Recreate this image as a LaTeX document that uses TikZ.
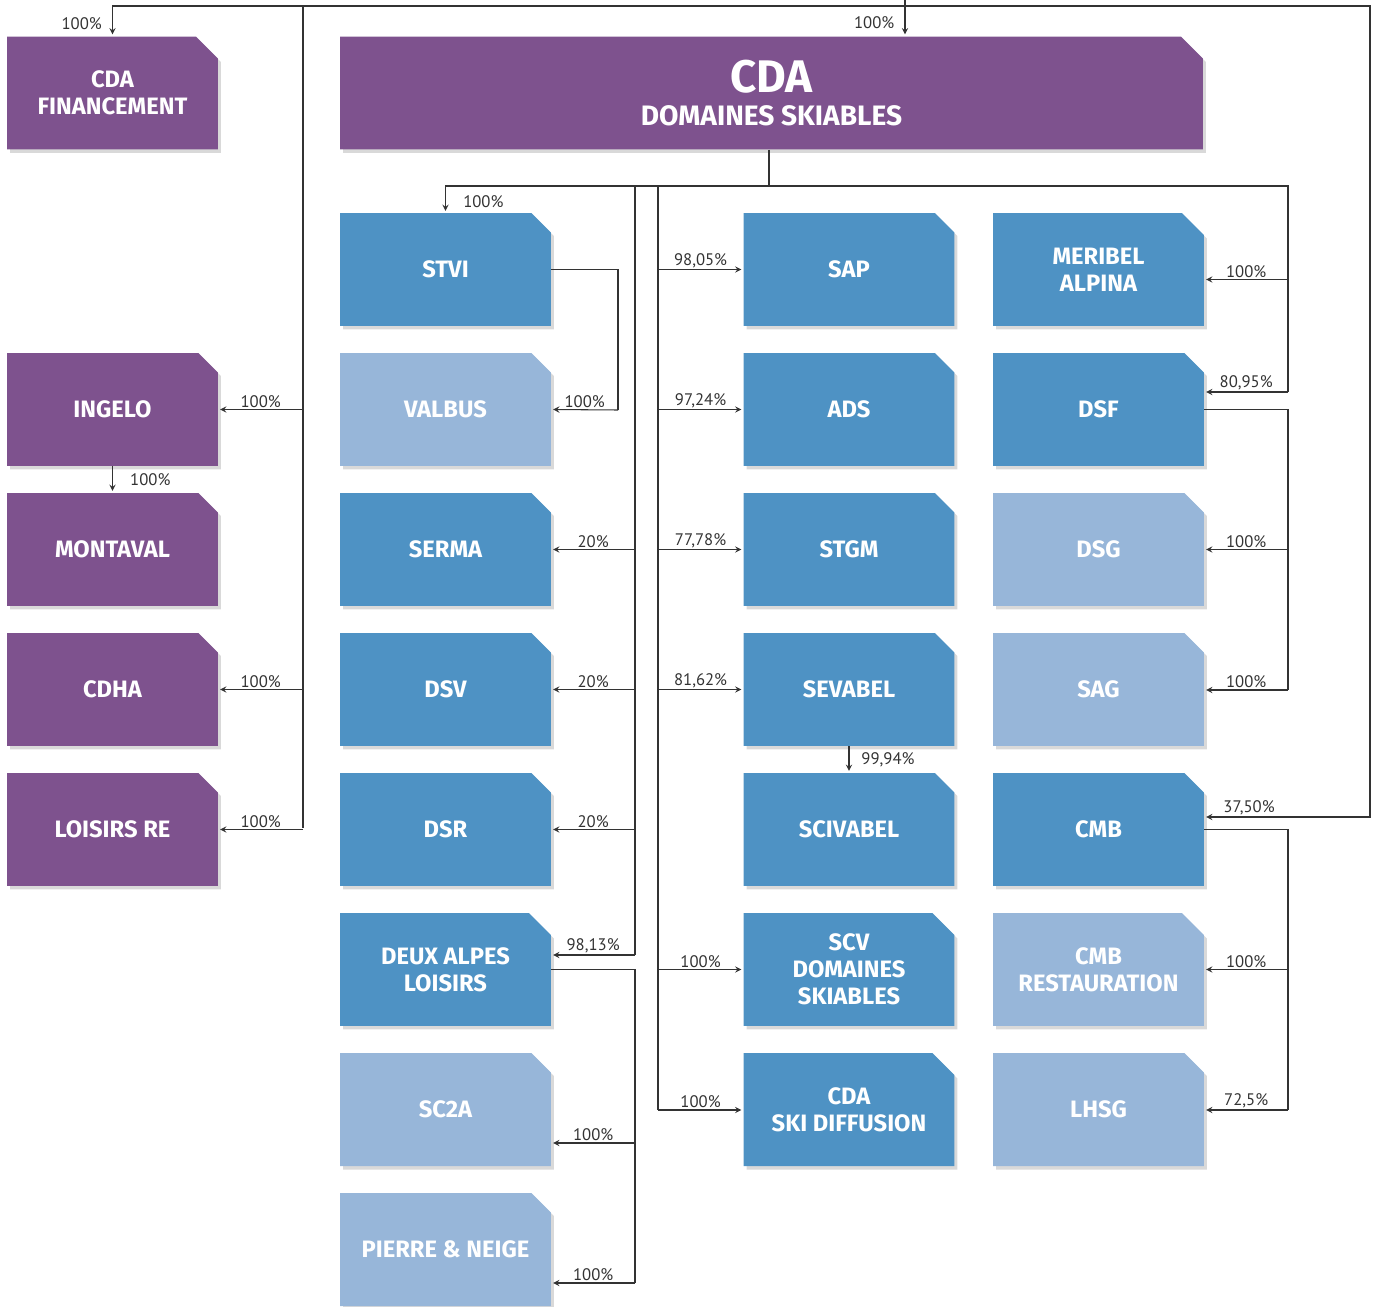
\documentclass[tikz,border=0pt]{standalone}
\usepackage{fontspec}
\setmainfont{Fira Sans}
\newfontfamily\pctfont{PT Sans}
\usepackage{xcolor}
\usetikzlibrary{shapes.misc, shadows}

\definecolor{cdapurple}{RGB}{126,82,142}
\definecolor{cdablue}{RGB}{78,146,196}
\definecolor{cdalight}{RGB}{151,182,217}
\definecolor{cdaline}{RGB}{51,51,51}

\begin{document}
\begin{tikzpicture}[x=0.02cm, y=-0.02cm]
  \tikzstyle{entity} = [chamfered rectangle, chamfered rectangle corners=north east,
    chamfered rectangle sep=0.22cm, minimum width=4.22cm, minimum height=2.26cm,
    inner sep=0pt, text=white, align=center, font=\bfseries\fontsize{13.5}{15.4}\selectfont,
    drop shadow={shadow xshift=0.06cm, shadow yshift=-0.07cm, opacity=0.3}]
  \tikzstyle{holding} = [entity, fill=cdapurple]
  \tikzstyle{sub} = [entity, fill=cdablue]
  \tikzstyle{minor} = [entity, fill=cdalight]
  \tikzstyle{link} = [draw=cdaline, line width=0.6pt]
  \tikzstyle{edge} = [link, ->, >=stealth, shorten >=1pt]
  \tikzstyle{pct} = [font=\pctfont\fontsize{9.5}{10}\selectfont, text=cdaline, inner sep=0.8pt]

  \useasboundingbox (0,0) rectangle (1375,1307);

  % holdings
  \node[holding] (fin) at (112.5,93) {CDA\\FINANCEMENT};
  \node[holding, minimum width=17.26cm] (cdads) at (771.5,93)
    {\fontsize{26}{28}\selectfont CDA\\[3pt]\fontsize{16}{18}\selectfont DOMAINES SKIABLES};

  % left column
  \node[holding] (ingelo) at (112.5,409.5) {INGELO};
  \node[holding] (montaval) at (112.5,549.5) {MONTAVAL};
  \node[holding] (cdha) at (112.5,689.5) {CDHA};
  \node[holding] (loisirs) at (112.5,829.5) {LOISIRS RE};

  % second column
  \node[sub] (stvi) at (445.5,269.5) {STVI};
  \node[minor] (valbus) at (445.5,409.5) {VALBUS};
  \node[sub] (serma) at (445.5,549.5) {SERMA};
  \node[sub] (dsv) at (445.5,689.5) {DSV};
  \node[sub] (dsr) at (445.5,829.5) {DSR};
  \node[sub] (deux) at (445.5,969.5) {DEUX ALPES\\LOISIRS};
  \node[minor] (sc2a) at (445.5,1109.5) {SC2A};
  \node[minor] (pierre) at (445.5,1249.5) {PIERRE \& NEIGE};

  % third column
  \node[sub] (sap) at (849,269.5) {SAP};
  \node[sub] (ads) at (849,409.5) {ADS};
  \node[sub] (stgm) at (849,549.5) {STGM};
  \node[sub] (sevabel) at (849,689.5) {SEVABEL};
  \node[sub] (scivabel) at (849,829.5) {SCIVABEL};
  \node[sub] (scv) at (849,969.5) {SCV\\DOMAINES\\SKIABLES};
  \node[sub] (skidif) at (849,1109.5) {CDA\\SKI DIFFUSION};

  % fourth column
  \node[sub] (meribel) at (1098.5,269.5) {MERIBEL\\ALPINA};
  \node[sub] (dsf) at (1098.5,409.5) {DSF};
  \node[minor] (dsg) at (1098.5,549.5) {DSG};
  \node[minor] (sag) at (1098.5,689.5) {SAG};
  \node[sub] (cmb) at (1098.5,829.5) {CMB};
  \node[minor] (cmbrest) at (1098.5,969.5) {CMB\\RESTAURATION};
  \node[minor] (lhsg) at (1098.5,1109.5) {LHSG};

  % junction points
  \coordinate (root) at (905,0);
  \coordinate (top) at (905,6);
  \coordinate (lspine) at (303,828);
  \coordinate (rspine) at (1370,817);
  \coordinate (bus) at (769,186);
  \coordinate (spineA) at (635,955);
  \coordinate (spineB) at (658,1110);
  \coordinate (spineC) at (1288,392);
  \coordinate (spineD) at (1288,690);
  \coordinate (spineE) at (1288,1110);
  \coordinate (spineF) at (618,410);
  \coordinate (spineG) at (635,1283);
  \coordinate (mIn) at ([yshift=-0.2cm]meribel.east);
  \coordinate (sIn) at ([yshift=-0.67cm]sc2a.east);

  % top level
  \draw[edge] (root) -- node[pct, pos=0.62, left=5pt] {100\%} (root |- cdads.north);
  \draw[edge] (top) -| node[pct, pos=0.8, left=5pt] {100\%} (fin.north);
  \draw[edge] (top) -| (rspine) -- node[pct, above, pos=0.73] {37,50\%} (rspine -| cmb.east);
  \draw[link] (lspine |- top) -- (lspine);
  \draw[edge] (lspine |- ingelo) -- node[pct, above] {100\%} (ingelo.east);
  \draw[edge] (lspine |- cdha) -- node[pct, above] {100\%} (cdha.east);
  \draw[edge] (lspine |- loisirs) -- node[pct, above] {100\%} (loisirs.east);
  \draw[edge] (ingelo.south) -- node[pct, right=9pt] {100\%} (montaval.north);

  % domaines skiables
  \draw[link] (bus |- cdads.south) -- (bus);
  \draw[edge] (bus) -| node[pct, pos=0.8, right=9pt] {100\%} (stvi.north);
  \draw[link] (bus) -| (spineC);
  \draw[link] (bus -| spineA) -- (spineA);
  \draw[link] (bus -| spineB) -- (spineB);

  \draw[edge] (spineA |- serma) -- node[pct, above] {20\%} (serma.east);
  \draw[edge] (spineA |- dsv) -- node[pct, above] {20\%} (dsv.east);
  \draw[edge] (spineA |- dsr) -- node[pct, above] {20\%} (dsr.east);
  \draw[edge] (spineA) -- node[pct, above] {98,13\%} (spineA -| deux.east);

  \draw[edge] (spineB |- sap) -- node[pct, above] {98,05\%} (sap.west);
  \draw[edge] (spineB |- ads) -- node[pct, above] {97,24\%} (ads.west);
  \draw[edge] (spineB |- stgm) -- node[pct, above] {77,78\%} (stgm.west);
  \draw[edge] (spineB |- sevabel) -- node[pct, above] {81,62\%} (sevabel.west);
  \draw[edge] (spineB |- scv) -- node[pct, above] {100\%} (scv.west);
  \draw[edge] (spineB) -- node[pct, above] {100\%} (spineB -| skidif.west);

  \draw[edge] (spineC |- mIn) -- node[pct, above] {100\%} (mIn);
  \draw[edge] (spineC) -- node[pct, above] {80,95\%} (spineC -| dsf.east);

  % second level
  \draw[link] (stvi.east) -| (spineF);
  \draw[edge] (spineF) -- node[pct, above] {100\%} (valbus.east);
  \draw[edge] (sevabel.south) -- node[pct, right=6pt] {99,94\%} (scivabel.north);
  \draw[link] (dsf.east) -| (spineD);
  \draw[edge] (spineD |- dsg) -- node[pct, above] {100\%} (dsg.east);
  \draw[edge] (spineD) -- node[pct, above] {100\%} (spineD -| sag.east);
  \draw[link] (cmb.east) -| (spineE);
  \draw[edge] (spineE |- cmbrest) -- node[pct, above] {100\%} (cmbrest.east);
  \draw[edge] (spineE) -- node[pct, above] {72,5\%} (spineE -| lhsg.east);
  \draw[link] (deux.east) -| (spineG);
  \draw[edge] (spineG |- sIn) -- node[pct, above] {100\%} (sIn);
  \draw[edge] (spineG) -- node[pct, above] {100\%} (spineG -| pierre.east);
\end{tikzpicture}
\end{document}
